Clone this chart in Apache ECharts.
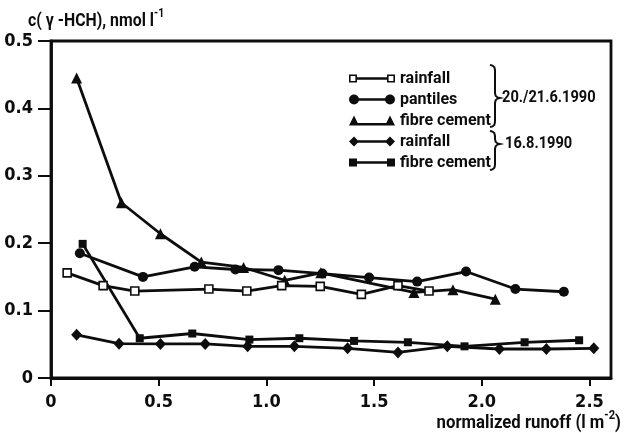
<!DOCTYPE html>
<html>
<head>
<meta charset="utf-8">
<script src="https://cdn.jsdelivr.net/npm/echarts@6/dist/echarts.min.js"></script>
<style>
  html, body { margin: 0; padding: 0; background: #fff; }
  #chart { width: 625px; height: 433px; }
</style>
</head>
<body>
<div id="chart"></div>
<script>
// Axis ticks
const xTicks = [0, 0.5, 1.0, 1.5, 2.0, 2.5];
const xTickLabels = ['0', '0.5', '1.0', '1.5', '2.0', '2.5'];
const yTicks = [0, 0.1, 0.2, 0.3, 0.4, 0.5];
const yTickLabels = ['0', '0.1', '0.2', '0.3', '0.4', '0.5'];

// 20./21.6.1990 — rainfall (open squares)
const rainJuneX = [0.075, 0.242, 0.389, 0.733, 0.909, 1.071, 1.25, 1.441, 1.611, 1.755];
const rainJuneY = [0.156, 0.137, 0.129, 0.132, 0.129, 0.137, 0.136, 0.124, 0.137, 0.129];

// 20./21.6.1990 — pantiles (circles)
const pantilesX = [0.134, 0.427, 0.667, 0.856, 1.056, 1.26, 1.477, 1.70, 1.927, 2.156, 2.381];
const pantilesY = [0.185, 0.150, 0.165, 0.161, 0.160, 0.155, 0.149, 0.143, 0.158, 0.132, 0.128];

// 20./21.6.1990 — fibre cement (triangles)
const fibreJuneX = [0.119, 0.327, 0.508, 0.698, 0.894, 1.085, 1.253, 1.685, 1.866, 2.063];
const fibreJuneY = [0.445, 0.260, 0.214, 0.172, 0.164, 0.145, 0.156, 0.127, 0.131, 0.117];

// 16.8.1990 — rainfall (diamonds)
const rainAugX = [0.119, 0.316, 0.508, 0.716, 0.913, 1.13, 1.377, 1.611, 1.84, 2.082, 2.30, 2.52];
const rainAugY = [0.064, 0.051, 0.0505, 0.0505, 0.047, 0.047, 0.044, 0.038, 0.047, 0.043, 0.043, 0.044];

// 16.8.1990 — fibre cement (filled squares)
const fibreAugX = [0.147, 0.412, 0.656, 0.921, 1.153, 1.407, 1.657, 1.92, 2.199, 2.452];
const fibreAugY = [0.199, 0.059, 0.066, 0.057, 0.059, 0.055, 0.053, 0.047, 0.053, 0.056];

const TICK_FONT = '"DejaVu Sans Condensed", "Liberation Sans", sans-serif';
const TEXT_FONT = 'Roboto, "DejaVu Sans Condensed", sans-serif';
const INK = '#0d0d0d';

const zip = (xs, ys) => xs.map((x, i) => [x, ys[i]]);

// Legend icons: a line with the marker at both ends (46 x 10 box)
const ICON_CIRCLE = 'path://M0,5A5,5 0 1,1 10,5A5,5 0 1,1 0,5Z M5,3.7L41,3.7L41,6.3L5,6.3Z M36,5A5,5 0 1,1 46,5A5,5 0 1,1 36,5Z';
const ICON_OPEN_SQUARE = 'path://M0,0L8,0L8,8L0,8Z M1.6,1.6L1.6,6.4L6.4,6.4L6.4,1.6Z M8,2.8L38,2.8L38,5.2L8,5.2Z M38,0L46,0L46,8L38,8Z M39.6,1.6L39.6,6.4L44.4,6.4L44.4,1.6Z';
const ICON_TRIANGLE = 'path://M0,10L5,0L10,10Z M5,7.5L41,7.5L41,10L5,10Z M36,10L41,0L46,10Z';
const ICON_DIAMOND = 'path://M0,5L5,0L10,5L5,10Z M5,3.8L41,3.8L41,6.2L5,6.2Z M36,5L41,0L46,5L41,10Z';
const ICON_SQUARE = 'path://M0,0L8,0L8,8L0,8Z M8,2.8L38,2.8L38,5.2L8,5.2Z M38,0L46,0L46,8L38,8Z';

const SEP = ' | ';
const names = {
  rainJune: 'rainfall' + SEP + '20./21.6.1990',
  pantiles: 'pantiles' + SEP + '20./21.6.1990',
  fibreJune: 'fibre cement' + SEP + '20./21.6.1990',
  rainAug: 'rainfall' + SEP + '16.8.1990',
  fibreAug: 'fibre cement' + SEP + '16.8.1990'
};

function lineSeries(name, data, symbol, size, itemStyle, z) {
  return {
    name, type: 'line', data, symbol, symbolSize: size,
    showAllSymbol: true, clip: false, z: z || 2,
    lineStyle: { color: INK, width: 2.8 },
    itemStyle: Object.assign({ color: INK }, itemStyle || {}),
    emphasis: { disabled: true }
  };
}

// A right-pointing curly brace as a polyline
function brace(x, y0, yMid, y1) {
  return [
    [x - 5, y0], [x - 2.5, y0 + 0.6], [x - 0.6, y0 + 2.2], [x, y0 + 5],
    [x, yMid - 5], [x + 0.6, yMid - 2.2], [x + 2.5, yMid - 0.6], [x + 5, yMid],
    [x + 2.5, yMid + 0.6], [x + 0.6, yMid + 2.2], [x, yMid + 5],
    [x, y1 - 5], [x - 0.6, y1 - 2.2], [x - 2.5, y1 - 0.6], [x - 5, y1]
  ];
}

const richTitle = {
  m: { fontFamily: TEXT_FONT, fontWeight: 'bold', fontSize: 18, fill: INK, lineHeight: 22, verticalAlign: 'bottom' },
  s: { fontFamily: TEXT_FONT, fontWeight: 'bold', fontSize: 12, fill: INK, lineHeight: 22, verticalAlign: 'top' }
};

const chart = echarts.init(document.getElementById('chart'), null, { renderer: 'canvas' });

chart.setOption({
  animation: false,
  backgroundColor: '#fff',
  grid: {
    left: 51, right: 14, top: 41, bottom: 55,
    show: true, borderColor: INK, borderWidth: 2.8, backgroundColor: 'transparent'
  },
  xAxis: {
    type: 'value', min: 0, max: 2.6,
    axisLine: { show: true, onZero: false, lineStyle: { color: INK, width: 2.8 } },
    axisTick: { show: true, customValues: xTicks, length: 8, lineStyle: { color: INK, width: 2 } },
    axisLabel: {
      customValues: xTicks, margin: 15, color: INK,
      fontFamily: TICK_FONT, fontWeight: 'bold', fontSize: 18,
      formatter: v => xTickLabels[xTicks.findIndex(t => Math.abs(t - v) < 1e-9)] ?? ''
    },
    splitLine: { show: false }
  },
  yAxis: {
    type: 'value', min: 0, max: 0.5,
    axisLine: { show: true, onZero: false, lineStyle: { color: INK, width: 2.8 } },
    axisTick: { show: true, customValues: yTicks, length: 13, lineStyle: { color: INK, width: 2 } },
    axisLabel: {
      customValues: yTicks, margin: 18, color: INK,
      fontFamily: TICK_FONT, fontWeight: 'bold', fontSize: 18,
      formatter: v => yTickLabels[yTicks.findIndex(t => Math.abs(t - v) < 1e-9)] ?? ''
    },
    splitLine: { show: false }
  },
  legend: {
    orient: 'vertical', left: 349, top: 70, padding: 0,
    itemWidth: 46, itemHeight: 10, itemGap: 4,
    selectedMode: false,
    textStyle: { fontFamily: TEXT_FONT, fontWeight: 'bold', fontSize: 16, color: INK, lineHeight: 17 },
    formatter: name => name.split(SEP)[0],
    data: [
      { name: names.rainJune, icon: ICON_OPEN_SQUARE, itemStyle: { color: INK, borderWidth: 0 } },
      { name: names.pantiles, icon: ICON_CIRCLE, itemStyle: { color: INK, borderWidth: 0 } },
      { name: names.fibreJune, icon: ICON_TRIANGLE, itemStyle: { color: INK, borderWidth: 0 } },
      { name: names.rainAug, icon: ICON_DIAMOND, itemStyle: { color: INK, borderWidth: 0 } },
      { name: names.fibreAug, icon: ICON_SQUARE, itemStyle: { color: INK, borderWidth: 0 } }
    ]
  },
  graphic: [
    // y-axis title
    {
      type: 'text', x: 28, y: 30, scaleX: 0.88, silent: true,
      style: { text: '{m|c( γ -HCH), nmol l}{s|-1}', rich: richTitle, align: 'left', verticalAlign: 'bottom' }
    },
    // x-axis title
    {
      type: 'text', x: 621, y: 432, scaleX: 0.93, silent: true,
      style: { text: '{m|normalized runoff (l m}{s|-2}{m|)}', rich: richTitle, align: 'right', verticalAlign: 'bottom' }
    },
    // date braces
    {
      type: 'polyline', silent: true,
      shape: { points: brace(495, 65, 98, 127) },
      style: { stroke: INK, lineWidth: 2, fill: null }
    },
    {
      type: 'polyline', silent: true,
      shape: { points: brace(495, 131, 144, 170) },
      style: { stroke: INK, lineWidth: 2, fill: null }
    },
    {
      type: 'text', x: 502, y: 98, scaleX: 0.86, silent: true,
      style: { text: '20./21.6.1990', fontFamily: TEXT_FONT, fontWeight: 'bold', fontSize: 17, fill: INK, verticalAlign: 'middle' }
    },
    {
      type: 'text', x: 505, y: 144, scaleX: 0.86, silent: true,
      style: { text: '16.8.1990', fontFamily: TEXT_FONT, fontWeight: 'bold', fontSize: 17, fill: INK, verticalAlign: 'middle' }
    }
  ],
  series: [
    lineSeries(names.pantiles, zip(pantilesX, pantilesY), 'circle', 10),
    lineSeries(names.fibreJune, zip(fibreJuneX, fibreJuneY), 'triangle', 11),
    lineSeries(names.rainAug, zip(rainAugX, rainAugY), 'diamond', [11, 12]),
    lineSeries(names.fibreAug, zip(fibreAugX, fibreAugY), 'rect', 8),
    lineSeries(names.rainJune, zip(rainJuneX, rainJuneY), 'rect', 8,
      { color: '#fff', borderColor: INK, borderWidth: 1.6 }, 5)
  ]
});
</script>
</body>
</html>
